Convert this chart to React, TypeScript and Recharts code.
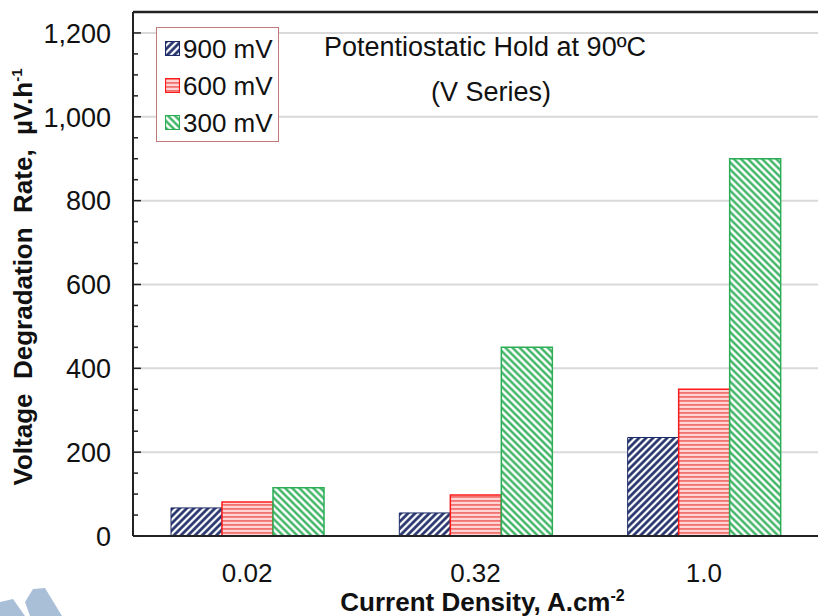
import React from 'react';
import { BarChart, Bar, XAxis, YAxis, CartesianGrid, Legend, Customized, ReferenceLine } from 'recharts';

// Current density categories (A/cm2)
const categories = ['0.02', '0.32', '1.0'];
// Voltage degradation rate (µV/h) per hold potential
const rate900 = [67, 55, 235];
const rate600 = [81, 98, 350];
const rate300 = [115, 450, 900];

const majorTicks = [0, 200, 400, 600, 800, 1000, 1200];
const gridValues = [200, 400, 600, 800, 1000, 1200];
const yMax = 1250;
const minorStep = 50;

const FONT = '"Liberation Sans", Arial, Helvetica, sans-serif';

const series = [
  { key: 'v900', name: '900 mV', fill: 'url(#hatch900)', stroke: '#1b2a66', strokeWidth: 1 },
  { key: 'v600', name: '600 mV', fill: 'url(#hatch600)', stroke: '#ff1a1a', strokeWidth: 1.5 },
  { key: 'v300', name: '300 mV', fill: 'url(#hatch300)', stroke: '#2aad55', strokeWidth: 1.5 },
];

const data = categories.map((c, i) => ({
  density: c,
  v900: rate900[i],
  v600: rate600[i],
  v300: rate300[i],
}));

const allTicks: number[] = [];
for (let v = 0; v <= yMax; v += minorStep) allTicks.push(v);

const YTick = (props: any) => {
  const { x, y, payload } = props;
  const v = payload.value as number;
  const major = majorTicks.includes(v);
  return (
    <g>
      <line x1={x} x2={x + (major ? 8 : 5)} y1={y} y2={y} stroke="#222" strokeWidth={1.5} />
      {major && (
        <text x={x - 22} y={y} dy="0.36em" textAnchor="end" fontSize={27} fill="#111" fontFamily={FONT}>
          {v.toLocaleString('en-US')}
        </text>
      )}
    </g>
  );
};

const XTitle = (props: any) => {
  const vb = props.viewBox || { x: 133, y: 536, width: 685, height: 80 };
  return (
    <text
      x={vb.x + vb.width / 2 + 7}
      y={vb.y + 75}
      textAnchor="middle"
      fontSize={26}
      fontWeight="bold"
      fill="#111"
      fontFamily={FONT}
    >
      Current Density, A.cm
      <tspan dy={-10} fontSize={16}>-2</tspan>
    </text>
  );
};

const YTitle = (props: any) => {
  const vb = props.viewBox || { x: 0, y: 12, width: 133, height: 524 };
  const cx = 23;
  const cy = vb.y + vb.height / 2 + 3;
  return (
    <text
      transform={`translate(${cx},${cy}) rotate(-90)`}
      x={0}
      y={0}
      dy="0.36em"
      textAnchor="middle"
      fontSize={26}
      fontWeight="bold"
      fill="#111"
      fontFamily={FONT}
      style={{ whiteSpace: 'pre' }}
    >
      {'Voltage  Degradation  Rate,  µV.h'}
      <tspan dy={-10} fontSize={15}>-1</tspan>
    </text>
  );
};

const Notes = () => (
  <g fontFamily={FONT} fill="#111" fontSize={27}>
    <text x={485} y={56} textAnchor="middle">Potentiostatic Hold at 90ºC</text>
    <text x={491} y={101} textAnchor="middle">(V Series)</text>
  </g>
);

const Mark = () => (
  <g fill="#a9bfd8">
    <polygon points="0,602 13,599 25,616 0,616" />
    <polygon points="25,602 33,589 45,588 62,616 30,616" />
  </g>
);

const LegendBox = (props: any) => {
  const payload = [...(props.payload || [])].sort(
    (a: any, b: any) =>
      series.findIndex((s) => s.key === a.dataKey) - series.findIndex((s) => s.key === b.dataKey),
  );
  return (
    <div
      style={{
        position: 'relative',
        width: 123,
        height: 115,
        boxSizing: 'border-box',
        border: '1.5px solid #c07878',
        background: '#fff',
        fontFamily: FONT,
        fontSize: 26,
        color: '#111',
      }}
    >
      {payload.map((p: any, i: number) => {
        const s = series.find((d) => d.key === p.dataKey) || series[i];
        return (
          <div
            key={s.key}
            style={{
              position: 'absolute',
              left: 8,
              top: 2 + i * 37,
              height: 37,
              display: 'flex',
              alignItems: 'center',
              whiteSpace: 'nowrap',
              lineHeight: '26px',
            }}
          >
            <svg width={15} height={15} style={{ marginRight: 3 }}>
              <rect x={0.5} y={0.5} width={14} height={14} fill={s.fill} stroke={s.stroke} strokeWidth={1.2} />
            </svg>
            <span>{s.name}</span>
          </div>
        );
      })}
    </div>
  );
};

export default function App() {
  return (
    <div style={{ position: 'absolute', left: 0, top: 0, width: 819, height: 616, background: '#fff' }}>
      <BarChart
        width={819}
        height={616}
        data={data}
        margin={{ top: 12, right: 1, bottom: 0, left: 0 }}
        barGap={0}
        barSize={51}
      >
        <defs>
          <pattern id="hatch900" patternUnits="userSpaceOnUse" width={5} height={5} patternTransform="rotate(45)">
            <rect width={5} height={5} fill="#ffffff" />
            <line x1={1.5} y1={0} x2={1.5} y2={5} stroke="#1b2a66" strokeWidth={2.6} />
          </pattern>
          <pattern id="hatch600" patternUnits="userSpaceOnUse" width={4} height={4}>
            <rect width={4} height={4} fill="#ffd4d4" />
            <rect y={0} width={4} height={1.8} fill="#f27272" />
          </pattern>
          <pattern id="hatch300" patternUnits="userSpaceOnUse" width={5} height={5} patternTransform="rotate(-45)">
            <rect width={5} height={5} fill="#ffffff" />
            <line x1={1.5} y1={0} x2={1.5} y2={5} stroke="#2aad55" strokeWidth={2.2} />
          </pattern>
        </defs>
        <CartesianGrid
          horizontal
          vertical={false}
          horizontalValues={gridValues}
          stroke="#d9d9d9"
          strokeWidth={2}
        />
        <XAxis
          dataKey="density"
          height={80}
          axisLine={{ stroke: '#222', strokeWidth: 2 }}
          tickLine={false}
          tickMargin={22}
          tick={{ fontSize: 26, fill: '#111', fontFamily: FONT }}
          label={<XTitle />}
        />
        <YAxis
          width={133}
          domain={[0, yMax]}
          ticks={allTicks}
          interval={0}
          tickSize={0}
          tickMargin={0}
          tickLine={false}
          axisLine={{ stroke: '#222', strokeWidth: 2 }}
          tick={<YTick />}
          label={<YTitle />}
        />
        <YAxis
          yAxisId="frameRight"
          orientation="right"
          width={0}
          domain={[0, yMax]}
          axisLine={{ stroke: '#b5b5b5', strokeWidth: 2 }}
          tick={false}
          tickLine={false}
        />
        <ReferenceLine y={yMax} stroke="#222" strokeWidth={2.5} />
        <Legend
          layout="vertical"
          align="center"
          verticalAlign="middle"
          wrapperStyle={{ left: 156, top: 27, width: 123, height: 115 }}
          content={<LegendBox />}
        />
        {series.map((s) => (
          <Bar
            key={s.key}
            dataKey={s.key}
            name={s.name}
            fill={s.fill}
            stroke={s.stroke}
            strokeWidth={s.strokeWidth}
            isAnimationActive={false}
          />
        ))}
        <Customized component={<Notes />} />
        <Customized component={<Mark />} />
      </BarChart>
    </div>
  );
}
